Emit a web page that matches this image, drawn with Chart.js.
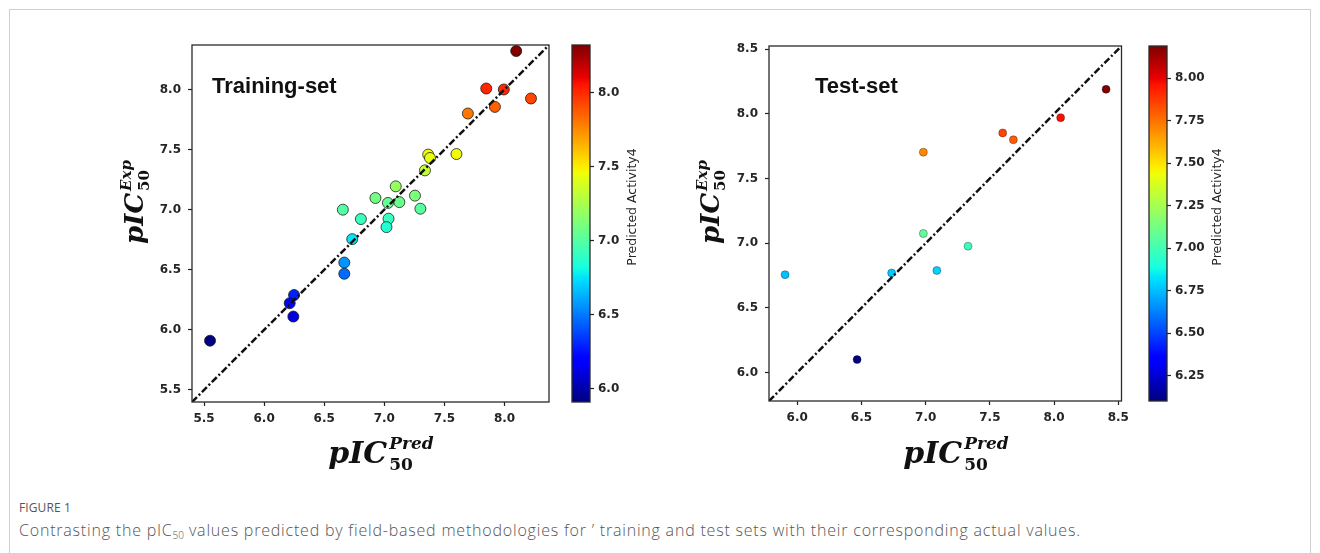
<!DOCTYPE html>
<html><head><meta charset="utf-8">
<script src="https://cdn.jsdelivr.net/npm/chart.js@4.4.0/dist/chart.umd.min.js"></script>
<style>
html,body{margin:0;padding:0;background:#fff;width:1320px;height:553px;overflow:hidden;position:relative;}
#frame{position:absolute;left:9px;top:9px;width:1302px;height:620px;border:1px solid #cfcfcf;box-sizing:border-box;}
canvas{position:absolute;top:0;}
#cap1{position:absolute;left:19px;top:499px;font:12px 'Open Sans',sans-serif;color:#555;letter-spacing:0.1px;}
#cap2{position:absolute;left:19px;top:519px;font:300 16px 'Open Sans',sans-serif;color:#555;white-space:nowrap;letter-spacing:0.8px;}
#cap2 sub{font-size:10px;vertical-align:-3px;line-height:0;letter-spacing:0;}
</style></head>
<body>
<div id="frame"></div>
<canvas id="trainPlot" width="560" height="480" style="left:0px"></canvas>
<canvas id="trainBar" width="100" height="480" style="left:560px"></canvas>
<canvas id="testPlot" width="475" height="480" style="left:660px"></canvas>
<canvas id="testBar" width="110" height="480" style="left:1135px"></canvas>
<div id="cap1">FIGURE 1</div>
<div id="cap2">Contrasting the pIC<sub>50</sub> values predicted by field-based methodologies for ’ training and test sets with their corresponding actual values.</div>
<script>
// ---- data ----
const trainPred = [8.097, 7.848, 7.994, 8.22, 7.92, 7.695, 7.365, 7.38, 7.60, 7.338, 7.095, 6.926, 7.255, 7.03, 7.125, 7.30, 6.655, 6.805, 7.035, 7.018, 6.733, 6.667, 6.667, 6.249, 6.213, 6.243, 5.55];
const trainExp  = [8.32, 8.008, 8.0, 7.925, 7.855, 7.80, 7.458, 7.43, 7.463, 7.327, 7.194, 7.097, 7.117, 7.056, 7.063, 7.008, 7.0, 6.922, 6.925, 6.855, 6.755, 6.56, 6.467, 6.29, 6.222, 6.111, 5.91];
const testPred = [6.982, 7.60, 7.683, 8.051, 8.405, 6.982, 7.33, 5.905, 6.735, 7.087, 6.466];
const testExp  = [7.704, 7.853, 7.80, 7.971, 8.19, 7.075, 6.977, 6.757, 6.77, 6.789, 6.10];
const trainRange = [5.40, 8.37];
const testRange = [5.78, 8.525];
const trainTicks = [5.5, 6.0, 6.5, 7.0, 7.5, 8.0];
const testTicks = [6.0, 6.5, 7.0, 7.5, 8.0, 8.5];
const trainCbTicks = [6.0, 6.5, 7.0, 7.5, 8.0];
const testCbTicks = [6.25, 6.5, 6.75, 7.0, 7.25, 7.5, 7.75, 8.0];
const trainTitle = 'Training-set';
const testTitle = 'Test-set';
const cbLabel = 'Predicted Activity4';

// ---- jet colormap ----
const JR=[[0,0],[0.35,0],[0.66,1],[0.89,1],[1,0.5]];
const JG=[[0,0],[0.125,0],[0.375,1],[0.64,1],[0.91,0],[1,0]];
const JB=[[0,0.5],[0.11,1],[0.34,1],[0.65,0],[1,0]];
function interp(p,t){for(let i=1;i<p.length;i++){if(t<=p[i][0]){const a=p[i-1],b=p[i];return a[1]+(b[1]-a[1])*(t-a[0])/(b[0]-a[0]);}}return p[p.length-1][1];}
function jet(t){t=Math.max(0,Math.min(1,t));return 'rgb('+Math.round(255*interp(JR,t))+','+Math.round(255*interp(JG,t))+','+Math.round(255*interp(JB,t))+')';}

const TICK_FONT = {family:"'DejaVu Sans', sans-serif", size:12, weight:'bold'};
const INK = '#262626';

const framePlugin = {id:'frame', afterDraw(chart){const a=chart.chartArea,c=chart.ctx;c.save();c.strokeStyle='#2a2a2a';c.lineWidth=1.3;c.strokeRect(a.left,a.top,a.right-a.left,a.bottom-a.top);c.restore();}};

function drawMath(ctx,x,y,sup,rot,size){
  ctx.save();ctx.translate(x,y);if(rot)ctx.rotate(-Math.PI/2);
  const s2=Math.round(size*0.57);
  const fMain='italic bold '+size+'px "DejaVu Serif"',fSub='bold '+s2+'px "DejaVu Serif"',fSup='italic bold '+s2+'px "DejaVu Serif"';
  ctx.font=fMain;const wM=ctx.measureText('pIC').width;
  ctx.font=fSub;const wS=ctx.measureText('50').width;
  ctx.font=fSup;const wP=ctx.measureText(sup).width;
  const tot=wM+2+Math.max(wS,wP);const x0=-tot/2;
  ctx.fillStyle='#111';ctx.textAlign='left';ctx.textBaseline='alphabetic';
  ctx.font=fMain;ctx.fillText('pIC',x0,0);
  ctx.font=fSub;ctx.fillText('50',x0+wM+2,size*0.23);
  ctx.font=fSup;ctx.fillText(sup,x0+wM+2,-size*0.47);
  ctx.restore();
}

function makeScatter(id,pred,exp,range,ticks,o){
  const lo=Math.min(...exp),hi=Math.max(...exp);
  const pts=pred.map((x,i)=>({x:x,y:exp[i]}));
  const cols=exp.map(v=>jet((v-lo)/(hi-lo)));
  const axis=(isX)=>({type:'linear',min:range[0],max:range[1],
    afterBuildTicks:s=>{s.ticks=ticks.map(v=>({value:v}));},
    afterFit:s=>{if(isX)s.height=30;else s.width=40;},
    grid:{display:true,drawOnChartArea:false,drawTicks:true,tickLength:4,tickColor:'#222',tickWidth:1.2},
    border:{display:false},
    ticks:{padding:isX?6:7,color:INK,font:TICK_FONT,callback:v=>Number(v).toFixed(1)}});
  const labels={id:'labels',afterDraw(chart){const a=chart.chartArea,c=chart.ctx;
    c.save();c.fillStyle='#111';c.font='bold 22px "Liberation Sans", Arial, sans-serif';c.textBaseline='middle';c.textAlign='left';
    c.fillText(o.title,a.left+o.tdx,a.top+o.tdy);c.restore();
    drawMath(c,o.xt[0],o.xt[1],'Pred',false,30);
    drawMath(c,o.yt[0],o.yt[1],'Exp',true,26);
  }};
  return new Chart(document.getElementById(id),{
    type:'scatter',
    data:{datasets:[
      {type:'line',data:[{x:range[0],y:range[0]},{x:range[1],y:range[1]}],borderColor:'#111',borderWidth:2.5,borderDash:[7,2.5,2,2.5],pointRadius:0,fill:false},
      {data:pts,backgroundColor:cols,borderColor:o.edge,borderWidth:o.edgeW,pointRadius:o.r}
    ]},
    options:{responsive:false,animation:false,devicePixelRatio:1,
      layout:{padding:o.pad},
      plugins:{legend:{display:false},tooltip:{enabled:false}},
      scales:{x:axis(true),y:axis(false)}},
    plugins:[framePlugin,labels]
  });
}

function makeBar(id,exp,ticks,dec,pad,labelX,labelY){
  const lo=Math.min(...exp),hi=Math.max(...exp);
  const lab={id:'cblab',afterDraw(chart){const c=chart.ctx;c.save();
    c.translate(labelX,labelY);c.rotate(-Math.PI/2);
    c.fillStyle=INK;c.font='12.5px "DejaVu Sans", sans-serif';c.textAlign='center';c.textBaseline='middle';
    c.fillText(cbLabel,0,0);c.restore();}};
  return new Chart(document.getElementById(id),{
    type:'bar',
    data:{labels:[''],datasets:[{data:[[lo,hi]],borderWidth:0,barPercentage:1,categoryPercentage:1,
      backgroundColor:(c)=>{const a=c.chart.chartArea;if(!a)return '#fff';const g=c.chart.ctx.createLinearGradient(0,a.bottom,0,a.top);
        for(let i=0;i<=100;i++)g.addColorStop(i/100,jet(i/100));return g;}}]},
    options:{responsive:false,animation:false,devicePixelRatio:1,
      layout:{padding:pad},
      plugins:{legend:{display:false},tooltip:{enabled:false}},
      scales:{x:{display:false},
        y:{position:'right',min:lo,max:hi,
          afterBuildTicks:s=>{s.ticks=ticks.map(v=>({value:v}));},
          afterFit:s=>{s.width=40;},
          grid:{display:true,drawOnChartArea:false,drawTicks:true,tickLength:4,tickColor:'#222',tickWidth:1.2},
          border:{display:false},
          ticks:{padding:4,color:INK,font:TICK_FONT,callback:v=>Number(v).toFixed(dec)}}}},
    plugins:[framePlugin,lab]
  });
}

makeScatter('trainPlot',trainPred,trainExp,trainRange,trainTicks,
  {pad:{left:152,top:45,right:11,bottom:48},r:5.5,edge:'rgba(20,20,20,0.75)',edgeW:1,title:trainTitle,tdx:20,tdy:42,xt:[381,463],yt:[143,202]});
makeBar('trainBar',trainExp,trainCbTicks,1,{left:12,right:30,top:45,bottom:78},73,207);
makeScatter('testPlot',testPred,testExp,testRange,testTicks,
  {pad:{left:69,top:46,right:9,bottom:49},r:4,edge:'rgba(20,20,20,0.35)',edgeW:1,title:testTitle,tdx:46,tdy:41,xt:[296,463],yt:[59,202]});
makeBar('testBar',testExp,testCbTicks,2,{left:14,right:38,top:46,bottom:79},83,207);
</script>
</body></html>
